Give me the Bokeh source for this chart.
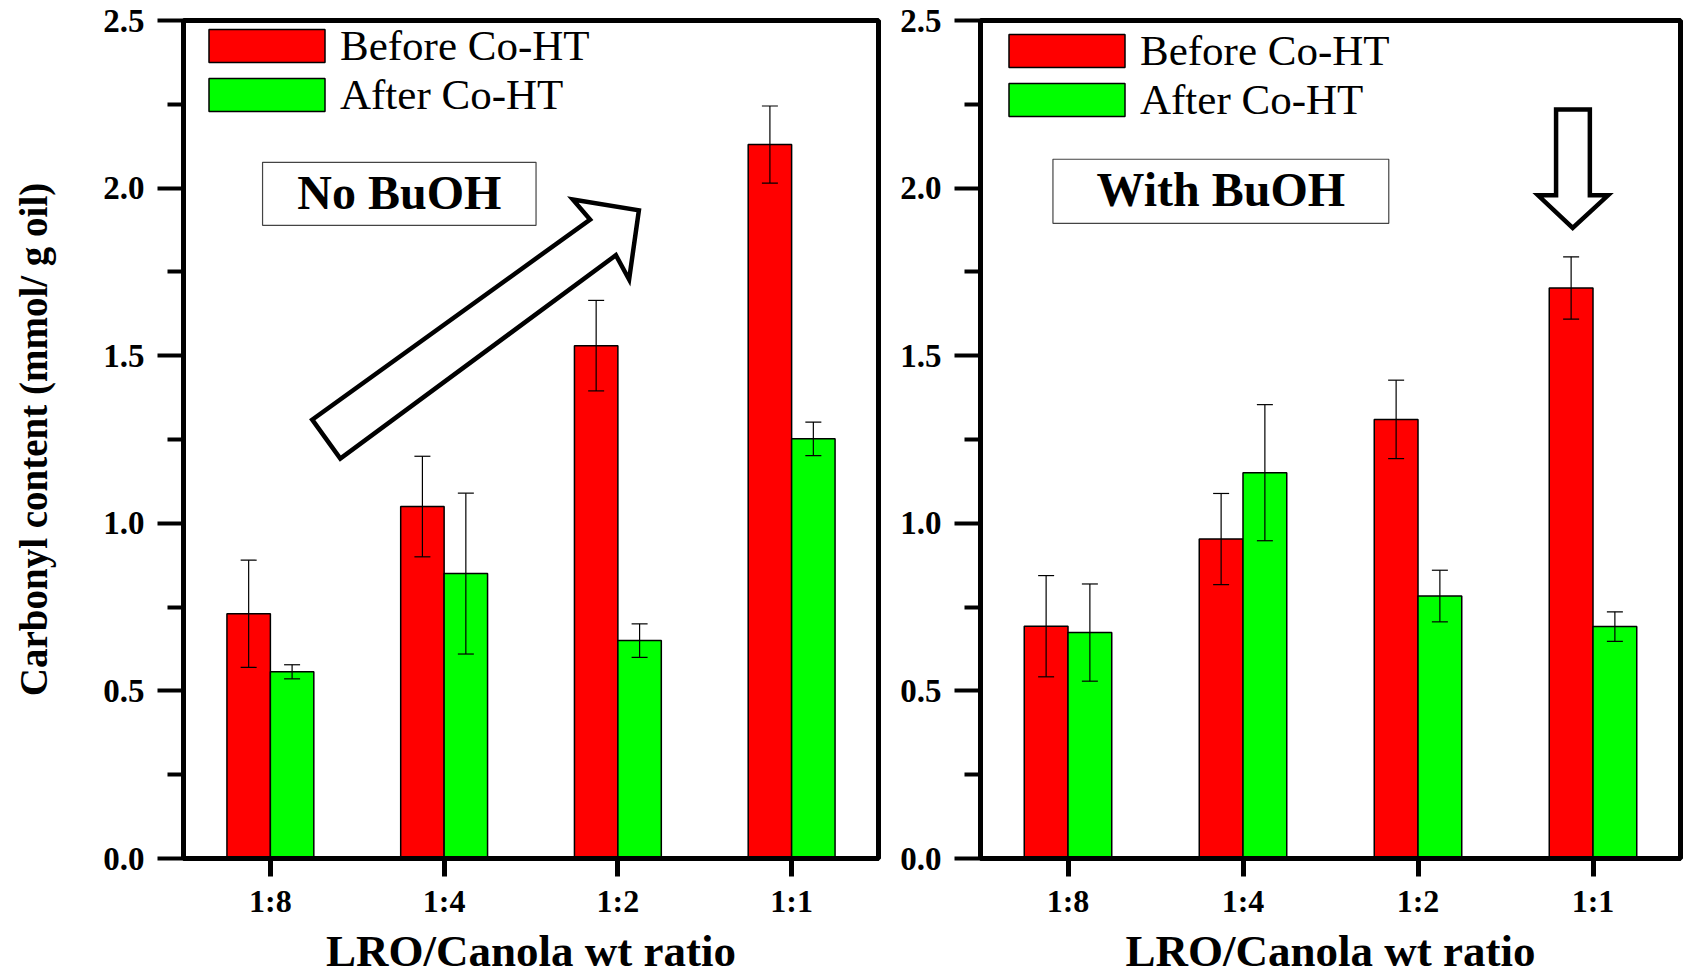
from bokeh.plotting import figure
from bokeh.models import (ColumnDataSource, Range1d, FixedTicker, Whisker, TeeHead,
                          Legend, LegendItem, BoxAnnotation, Label, PrintfTickFormatter)
from bokeh.transform import dodge
from bokeh.layouts import row
from bokeh.embed import file_html
from bokeh.resources import INLINE

# ---------------- data ----------------
categories = ["1:8", "1:4", "1:2", "1:1"]
positions = [1, 2, 3, 4]

no_buoh_before = [0.73, 1.05, 1.53, 2.13]
no_buoh_before_err = [0.16, 0.15, 0.135, 0.115]
no_buoh_after = [0.557, 0.85, 0.65, 1.252]
no_buoh_after_err = [0.021, 0.24, 0.05, 0.05]

with_buoh_before = [0.693, 0.953, 1.31, 1.702]
with_buoh_before_err = [0.151, 0.136, 0.117, 0.093]
with_buoh_after = [0.674, 1.151, 0.783, 0.692]
with_buoh_after_err = [0.145, 0.203, 0.077, 0.044]

y_ticks = [0.0, 0.5, 1.0, 1.5, 2.0, 2.5]
y_minor_ticks = [0.25, 0.75, 1.25, 1.75, 2.25]
series_labels = ["Before Co-HT", "After Co-HT"]
series_colors = ["#FF0000", "#00FF00"]
panel_names = ["No BuOH", "With BuOH"]
x_title = "LRO/Canola wt ratio"
y_title = "Carbonyl content (mmol/ g oil)"

FONT = "Liberation Serif"
BAR_W = 0.25


def make_panel(before, before_err, after, after_err, width, mb_left, mb_right,
               show_ytitle, legend_loc, name, name_box, arrow_x, arrow_y):
    src = ColumnDataSource(dict(
        x=positions,
        before=before,
        b_up=[v + e for v, e in zip(before, before_err)],
        b_lo=[v - e for v, e in zip(before, before_err)],
        after=after,
        a_up=[v + e for v, e in zip(after, after_err)],
        a_lo=[v - e for v, e in zip(after, after_err)],
    ))
    p = figure(width=width, height=978, x_range=Range1d(0.5, 4.5), y_range=Range1d(0, 2.5),
               output_backend="svg", toolbar_location=None, title=None,
               min_border_left=mb_left, min_border_right=mb_right,
               min_border_top=20, min_border_bottom=119)
    p.xgrid.grid_line_color = None
    p.ygrid.grid_line_color = None
    p.outline_line_color = "black"
    p.outline_line_width = 5
    p.background_fill_color = "white"
    p.border_fill_color = "white"

    r_b = p.vbar(x=dodge("x", -BAR_W / 2, range=p.x_range), top="before", width=BAR_W,
                 source=src, fill_color=series_colors[0], line_color="black", line_width=1.5)
    r_a = p.vbar(x=dodge("x", BAR_W / 2, range=p.x_range), top="after", width=BAR_W,
                 source=src, fill_color=series_colors[1], line_color="black", line_width=1.5)

    for off, up, lo in [(-BAR_W / 2, "b_up", "b_lo"), (BAR_W / 2, "a_up", "a_lo")]:
        w = Whisker(source=src, base=dodge("x", off, range=p.x_range), upper=up, lower=lo,
                    line_color="black", line_width=1.2, level="annotation",
                    upper_head=TeeHead(size=16, line_width=1.2, line_color="black"),
                    lower_head=TeeHead(size=16, line_width=1.2, line_color="black"))
        p.add_layout(w)

    # axes
    xa = p.xaxis[0]
    xa.ticker = FixedTicker(ticks=positions)
    xa.major_label_overrides = {pos: c for pos, c in zip(positions, categories)}
    xa.minor_tick_line_color = None
    xa.major_tick_out = 18
    xa.major_tick_in = 0
    xa.major_tick_line_width = 5
    xa.axis_line_width = 5
    xa.major_label_text_font = FONT
    xa.major_label_text_font_style = "bold"
    xa.major_label_text_font_size = "32px"
    xa.major_label_text_color = "black"
    xa.major_label_standoff = 6
    xa.axis_label = x_title
    xa.axis_label_text_font = FONT
    xa.axis_label_text_font_style = "bold"
    xa.axis_label_text_font_size = "45px"
    xa.axis_label_text_color = "black"
    xa.axis_label_text_baseline = "top"
    xa.axis_label_standoff = 4

    ya = p.yaxis[0]
    ya.ticker = FixedTicker(ticks=y_ticks, minor_ticks=y_minor_ticks)
    ya.formatter = PrintfTickFormatter(format="%.1f")
    ya.major_tick_out = 26
    ya.major_tick_in = 0
    ya.minor_tick_out = 16
    ya.minor_tick_in = 0
    ya.major_tick_line_width = 4
    ya.minor_tick_line_width = 4
    ya.axis_line_width = 5
    ya.major_label_text_font = FONT
    ya.major_label_text_font_style = "bold"
    ya.major_label_text_font_size = "33px"
    ya.major_label_text_color = "black"
    ya.major_label_standoff = 13
    if show_ytitle:
        ya.axis_label = y_title
        ya.axis_label_text_font = FONT
        ya.axis_label_text_font_style = "bold"
        ya.axis_label_text_font_size = "39px"
        ya.axis_label_text_color = "black"
        ya.axis_label_standoff = 45

    legend = Legend(items=[LegendItem(label=series_labels[0], renderers=[r_b]),
                           LegendItem(label=series_labels[1], renderers=[r_a])],
                    location=legend_loc, glyph_width=145, glyph_height=41, label_height=47,
                    spacing=0, padding=0, margin=0, border_line_color=None,
                    background_fill_alpha=0, label_text_font=FONT,
                    label_text_font_size="43px", label_standoff=1, label_text_color="black")
    p.add_layout(legend)

    # annotation box with panel name
    l, r, b, t = name_box
    p.add_layout(BoxAnnotation(left=l, right=r, bottom=b, top=t, fill_color="white",
                               fill_alpha=1, line_color="#444444", line_width=1.2,
                               line_alpha=1))
    p.add_layout(Label(x=(l + r) / 2, y=(b + t) / 2 + 0.005, text=name, text_font=FONT,
                       text_font_style="bold", text_font_size="48px", text_color="black",
                       text_align="center", text_baseline="middle"))

    # hollow arrow annotation
    p.patch(arrow_x, arrow_y, fill_color="white", line_color="black", line_width=4.5,
            line_join="miter")
    return p


left = make_panel(no_buoh_before, no_buoh_before_err, no_buoh_after, no_buoh_after_err,
                  width=883, mb_left=183, mb_right=5, show_ytitle=True,
                  legend_loc=(11, 739), name=panel_names[0],
                  name_box=(0.955, 2.529, 1.889, 2.077),
                  arrow_x=[1.2407, 1.4025, 2.9886, 3.0646, 3.1210, 2.7406, 2.8401],
                  arrow_y=[1.3091, 1.1930, 1.7998, 1.7274, 1.9339, 1.9658, 1.9062])

right = make_panel(with_buoh_before, with_buoh_before_err, with_buoh_after, with_buoh_after_err,
                   width=804, mb_left=97, mb_right=7, show_ytitle=False,
                   legend_loc=(14, 734), name=panel_names[1],
                   name_box=(0.914, 2.833, 1.895, 2.086),
                   arrow_x=[3.789, 3.982, 3.982, 4.086, 3.884, 3.686, 3.789],
                   arrow_y=[2.2348, 2.2348, 1.9785, 1.9785, 1.8811, 1.9785, 1.9785])

layout = row(left, right)
open("out.html", "w").write(file_html(layout, INLINE))
